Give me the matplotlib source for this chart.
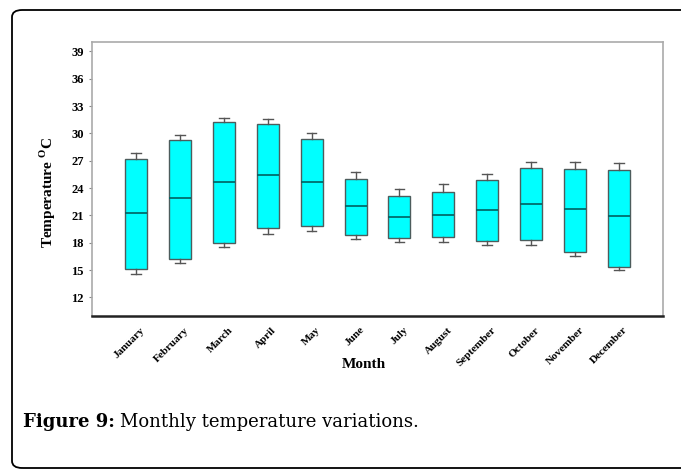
import matplotlib
matplotlib.use('Agg')
import matplotlib.pyplot as plt
from matplotlib.patches import FancyBboxPatch
from matplotlib.transforms import ScaledTranslation

months = ['January', 'February', 'March', 'April', 'May', 'June', 'July',
          'August', 'September', 'October', 'November', 'December']
whis_lo = [14.6, 15.8, 17.5, 19.0, 19.3, 18.4, 18.1, 18.1, 17.8, 17.8, 16.5, 15.0]
q1 = [15.1, 16.2, 18.0, 19.6, 19.8, 18.9, 18.5, 18.6, 18.2, 18.3, 17.0, 15.3]
median = [21.3, 22.9, 24.7, 25.4, 24.7, 22.0, 20.8, 21.1, 21.6, 22.3, 21.7, 20.9]
q3 = [27.2, 29.3, 31.2, 31.0, 29.4, 25.0, 23.1, 23.6, 24.9, 26.2, 26.1, 26.0]
whis_hi = [27.9, 29.8, 31.7, 31.6, 30.0, 25.8, 23.9, 24.4, 25.6, 26.9, 26.9, 26.8]
y_ticks = [12, 15, 18, 21, 24, 27, 30, 33, 36, 39]

serif = ['Liberation Serif', 'DejaVu Serif']

fig = plt.figure(figsize=(6.81, 4.71), dpi=100)
ax = fig.add_axes([0.1351, 0.3297, 0.8385, 0.5805])

stats = []
for i in range(len(months)):
    stats.append({'med': median[i], 'q1': q1[i], 'q3': q3[i],
                  'whislo': whis_lo[i], 'whishi': whis_hi[i], 'fliers': []})

ax.bxp(stats, positions=list(range(1, 13)), widths=0.5, capwidths=0.22,
       showfliers=False, patch_artist=True,
       boxprops=dict(facecolor='#00ffff', edgecolor='#4d5c5c', linewidth=1.0),
       medianprops=dict(color='#006060', linewidth=1.2),
       whiskerprops=dict(color='#555555', linewidth=1.0),
       capprops=dict(color='#555555', linewidth=1.0))

ax.set_xlim(0, 13)
ax.set_ylim(10, 40)
ax.set_yticks(y_ticks)
ax.set_yticklabels([str(v) for v in y_ticks], fontfamily=serif,
                   fontweight='bold', fontsize=9)
ax.tick_params(axis='y', length=2, color='#888888', pad=4)
ax.set_xticks(list(range(1, 13)))
ax.set_xticklabels(months, rotation=45, ha='right', rotation_mode='anchor',
                   fontfamily=serif, fontweight='bold', fontsize=8)
ax.tick_params(axis='x', length=0, pad=7)
offset = ScaledTranslation(3 / 72, 0, fig.dpi_scale_trans)
for lab in ax.get_xticklabels():
    lab.set_transform(lab.get_transform() + offset)

for side in ['top', 'right', 'left']:
    ax.spines[side].set_color('#aaaaaa')
    ax.spines[side].set_linewidth(1.2)
ax.spines['bottom'].set_color('#222222')
ax.spines['bottom'].set_linewidth(1.8)

ax.set_ylabel('Temperature $^{\\mathregular{O}}$C', fontfamily=serif,
              fontweight='bold', fontsize=11)
ax.yaxis.set_label_coords(-0.06, 0.45)
ax.set_xlabel('Month', fontfamily=serif, fontweight='bold', fontsize=11)
ax.xaxis.set_label_coords(0.476, -0.155)

# rounded frame around the whole figure
frame = FancyBboxPatch((12 / 681, 3 / 471), 700 / 681, 458 / 471,
                       boxstyle='round,pad=0,rounding_size=0.015',
                       transform=fig.transFigure, facecolor='none',
                       edgecolor='black', linewidth=1.3, clip_on=False)
fig.patches.append(frame)

# caption
cap = ['DejaVu Serif']
t1 = fig.text(23 / 681, 1 - 426.7 / 471, 'Figure 9:', fontfamily=cap,
              fontweight='bold', fontsize=13, va='baseline')
fig.canvas.draw()
bb = t1.get_window_extent()
fig.text((bb.x1 + 5) / 681, 1 - 426.7 / 471, 'Monthly temperature variations.',
         fontfamily=cap, fontsize=13, va='baseline')

fig.savefig('out.png', dpi=100)
